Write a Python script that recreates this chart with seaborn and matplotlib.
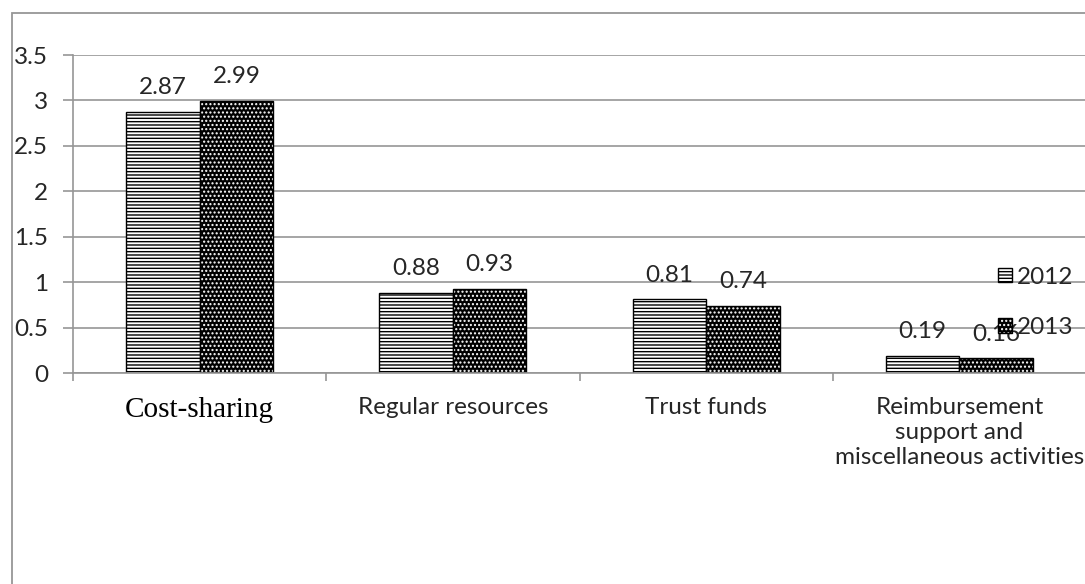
import matplotlib
matplotlib.use("Agg")
import matplotlib.pyplot as plt
from matplotlib.patches import Rectangle
import seaborn as sns
import pandas as pd

categories = ["Cost-sharing", "Regular resources", "Trust funds",
              "Reimbursement\nsupport and\nmiscellaneous activities"]
values_2012 = [2.87, 0.88, 0.81, 0.19]
values_2013 = [2.99, 0.93, 0.74, 0.16]
years = ["2012", "2013"]
y_ticks = [0, 0.5, 1, 1.5, 2, 2.5, 3, 3.5]
y_tick_labels = ["0", "0.5", "1", "1.5", "2", "2.5", "3", "3.5"]

df = pd.DataFrame({
    "category": categories * 2,
    "value": values_2012 + values_2013,
    "year": [years[0]] * len(categories) + [years[1]] * len(categories),
})

sns.set_theme(style="white")
plt.rcParams["font.family"] = ["Lato", "DejaVu Sans"]
plt.rcParams["hatch.linewidth"] = 1.0

TXT = "#262626"
GRID = "#969696"
FS = 17.5

fig = plt.figure(figsize=(10.85, 5.84), dpi=100)
ax = fig.add_axes([73 / 1085, 1 - 373 / 584, (1086 - 73) / 1085, (373 - 55) / 584])

sns.barplot(data=df, x="category", y="value", hue="year", order=categories,
            hue_order=years, palette=["white", "white"], width=0.58,
            ax=ax, legend=False)

ax.set_ylim(0, 3.5)
ax.set_yticks(y_ticks)
ax.set_yticklabels(y_tick_labels, fontsize=FS, color=TXT)
ax.yaxis.grid(True, color=GRID, linewidth=1.2)
ax.set_axisbelow(True)
ax.set_xlabel("")
ax.set_ylabel("")

for side in ["top", "right"]:
    ax.spines[side].set_visible(False)
for side in ["left", "bottom"]:
    ax.spines[side].set_color(GRID)
    ax.spines[side].set_linewidth(1.2)

# tick marks: outward on y, category separators on x
ax.tick_params(axis="y", which="major", left=True, length=7, width=1.2,
               color=GRID, pad=11)
ax.set_xticks([i - 0.5 for i in range(len(categories) + 1)], minor=True)
ax.tick_params(axis="x", which="minor", bottom=True, length=6, width=1.2,
               color=GRID)
ax.tick_params(axis="x", which="major", bottom=False, length=0, pad=17)
ax.set_xticks(range(len(categories)))
ax.set_xticklabels(categories, fontsize=FS, color=TXT, linespacing=1.25,
                   va="top")
first = ax.get_xticklabels()[0]
first.set_family(["Liberation Serif"])
first.set_fontsize(21)
first.set_color("black")

c2012, c2013 = ax.containers[0], ax.containers[1]
for p in c2012:
    p.set_facecolor("white")
    p.set_edgecolor("black")
    p.set_linewidth(1.0)
    p.set_hatch("-----")
for p in c2013:
    p.set_facecolor("black")
    p.set_edgecolor("black")
    p.set_linewidth(1.0)
    p.set_hatch("....")
    p._hatch_color = (1, 1, 1, 1)

for cont in (c2012, c2013):
    ax.bar_label(cont, fmt="%.2f", padding=10, fontsize=FS, color=TXT)

leg = ax.legend(handles=[c2012[0], c2013[0]], labels=years, loc="upper left",
                bbox_to_anchor=(0.904, 0.365), frameon=False, fontsize=FS,
                handlelength=0.55, handleheight=0.55, handletextpad=0.2,
                labelspacing=1.2, borderaxespad=0)
for t in leg.get_texts():
    t.set_color(TXT)

# outer chart-area frame
fig.patches.append(Rectangle((12 / 1085, -0.2), 1.2, (584 - 13) / 584 + 0.2,
                             transform=fig.transFigure, fill=False,
                             edgecolor=GRID, linewidth=1.3))

fig.savefig("out.png", dpi=100)
